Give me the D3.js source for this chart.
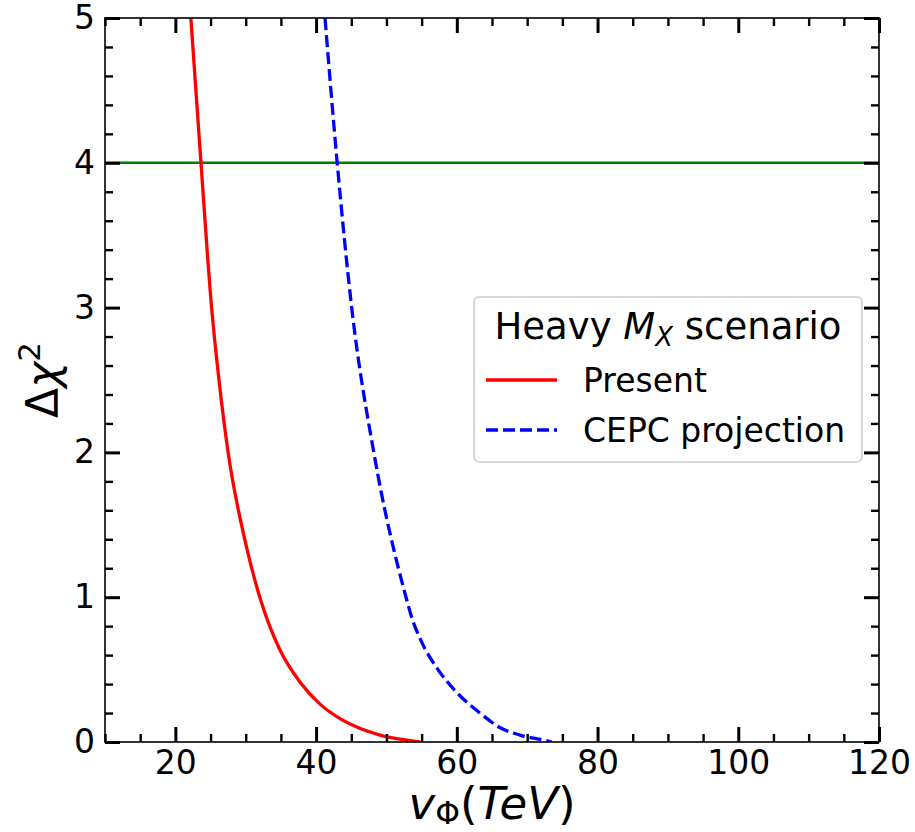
<!DOCTYPE html>
<html>
<head>
<meta charset="utf-8">
<script src="https://cdn.jsdelivr.net/npm/d3@7"></script>
<style>
  body { margin: 0; background: #fff; }
  text { font-family: "DejaVu Sans", sans-serif; fill: #000; }
</style>
</head>
<body>
<svg id="chart" width="915" height="832"></svg>
<script>
// Δχ² versus the vacuum expectation value v_Φ (TeV)
const presentV    = [22.2, 23.64, 25.15, 26.2, 27.5, 29.9, 32.0, 34.87, 37.7, 40.6, 43.4, 46.2, 49.1, 51.9, 54.8];
const presentChi2 = [5.0, 4.0, 3.0, 2.5, 2.0, 1.39, 1.0, 0.635, 0.415, 0.26, 0.162, 0.095, 0.048, 0.02, 0.0];

const cepcV    = [41.27, 43.0, 45.06, 48.2, 52.78, 53.56, 54.91, 57.33, 60.03, 63.3, 66.1, 68.98, 72.68, 73.5];
const cepcChi2 = [5.0, 4.0, 3.0, 2.0, 1.0, 0.865, 0.70, 0.50, 0.34, 0.20, 0.10, 0.048, 0.01, 0.0];

const thresholdChi2 = 4;

const xDomain = [10, 120];
const yDomain = [0, 5];
const xMajorTicks = [20, 40, 60, 80, 100, 120];
const yMajorTicks = [0, 1, 2, 3, 4, 5];
const xMinorStep = 5;
const yMinorStep = 0.2;

const seriesNames = ["Present", "CEPC projection"];

const svg = d3.select("#chart");
const plotLeft = 105, plotRight = 879, plotTop = 18, plotBottom = 742;

const x = d3.scaleLinear().domain(xDomain).range([plotLeft, plotRight]);
const y = d3.scaleLinear().domain(yDomain).range([plotBottom, plotTop]);

const near = (a, b) => Math.abs(a - b) < 1e-6;
const xMinor = d3.range(xDomain[0], xDomain[1] + 1e-6, xMinorStep)
  .filter(v => !xMajorTicks.some(t => near(t, v)));
const yMinor = d3.range(0, Math.round((yDomain[1] - yDomain[0]) / yMinorStep) + 1)
  .map(i => yDomain[0] + i * yMinorStep)
  .filter(v => !yMajorTicks.some(t => near(t, v)));

svg.append("defs").append("clipPath").attr("id", "plotClip")
  .append("rect").attr("x", plotLeft).attr("y", plotTop)
  .attr("width", plotRight - plotLeft).attr("height", plotBottom - plotTop);

// curves
const plot = svg.append("g").attr("clip-path", "url(#plotClip)");
const line = d3.line().x(d => x(d[0])).y(d => y(d[1])).curve(d3.curveMonotoneX);

plot.append("line")
  .attr("x1", x(xDomain[0])).attr("x2", x(xDomain[1]))
  .attr("y1", y(thresholdChi2)).attr("y2", y(thresholdChi2))
  .attr("stroke", "#008000").attr("stroke-width", 2.6);

plot.append("path")
  .datum(d3.zip(presentV, presentChi2))
  .attr("d", line).attr("fill", "none")
  .attr("stroke", "#ff0000").attr("stroke-width", 3.3);

plot.append("path")
  .datum(d3.zip(cepcV, cepcChi2))
  .attr("d", line).attr("fill", "none")
  .attr("stroke", "#0000ff").attr("stroke-width", 3.3)
  .attr("stroke-dasharray", "12,5");

// axes with inward ticks on all four sides
const tickFont = 33;
function styleAxis(g, major) {
  g.select(".domain").remove();
  g.selectAll(".tick line").attr("stroke", "#000").attr("stroke-width", major ? 3 : 2.4);
  g.selectAll(".tick text").style("font-size", tickFont + "px").style("font-family", '"DejaVu Sans", sans-serif');
}

svg.append("g").attr("transform", `translate(0,${plotBottom})`)
  .call(d3.axisBottom(x).tickValues(xMajorTicks).tickSize(-15).tickPadding(9).tickFormat(d3.format("d")))
  .call(g => styleAxis(g, true));
svg.append("g").attr("transform", `translate(0,${plotBottom})`)
  .call(d3.axisBottom(x).tickValues(xMinor).tickSize(-8).tickFormat(""))
  .call(g => styleAxis(g, false));
svg.append("g").attr("transform", `translate(0,${plotTop})`)
  .call(d3.axisTop(x).tickValues(xMajorTicks).tickSize(-15).tickFormat(""))
  .call(g => styleAxis(g, true));
svg.append("g").attr("transform", `translate(0,${plotTop})`)
  .call(d3.axisTop(x).tickValues(xMinor).tickSize(-8).tickFormat(""))
  .call(g => styleAxis(g, false));

svg.append("g").attr("transform", `translate(${plotLeft},0)`)
  .call(d3.axisLeft(y).tickValues(yMajorTicks).tickSize(-15).tickPadding(10).tickFormat(d3.format("d")))
  .call(g => styleAxis(g, true));
svg.append("g").attr("transform", `translate(${plotLeft},0)`)
  .call(d3.axisLeft(y).tickValues(yMinor).tickSize(-8).tickFormat(""))
  .call(g => styleAxis(g, false));
svg.append("g").attr("transform", `translate(${plotRight},0)`)
  .call(d3.axisRight(y).tickValues(yMajorTicks).tickSize(-15).tickFormat(""))
  .call(g => styleAxis(g, true));
svg.append("g").attr("transform", `translate(${plotRight},0)`)
  .call(d3.axisRight(y).tickValues(yMinor).tickSize(-8).tickFormat(""))
  .call(g => styleAxis(g, false));

// frame
svg.append("rect")
  .attr("x", plotLeft).attr("y", plotTop)
  .attr("width", plotRight - plotLeft).attr("height", plotBottom - plotTop)
  .attr("fill", "none").attr("stroke", "#000").attr("stroke-width", 1.6);

// axis labels
const labelFont = 45;
const xl = svg.append("text")
  .attr("x", (plotLeft + plotRight) / 2).attr("y", 819)
  .attr("text-anchor", "middle").style("font-size", labelFont + "px");
xl.append("tspan").style("font-style", "italic").text("v");
xl.append("tspan").attr("dy", 5).style("font-size", (labelFont * 0.7) + "px").text("Φ");
xl.append("tspan").attr("dy", -5).text("(");
xl.append("tspan").style("font-style", "italic").text("TeV");
xl.append("tspan").text(")");

const yl = svg.append("text")
  .attr("transform", `translate(58,${(plotTop + plotBottom) / 2}) rotate(-90)`)
  .attr("text-anchor", "middle").style("font-size", "44px");
yl.append("tspan").text("Δ");
yl.append("tspan").style("font-style", "italic").text("χ");
yl.append("tspan").attr("dy", -18).style("font-size", (44 * 0.7) + "px").text("2");

// legend
const legendFont = 33;
const titleFont = 37;
const lg = svg.append("g");
lg.append("rect")
  .attr("x", 474).attr("y", 297).attr("width", 388).attr("height", 165)
  .attr("rx", 5).attr("fill", "#fff").attr("fill-opacity", 0.8)
  .attr("stroke", "#cccccc").attr("stroke-width", 1.5);

const title = lg.append("text").attr("x", 668).attr("y", 339)
  .attr("text-anchor", "middle").style("font-size", titleFont + "px");
title.append("tspan").text("Heavy ");
title.append("tspan").style("font-style", "italic").text("M");
title.append("tspan").attr("dy", 7).style("font-style", "italic").style("font-size", (titleFont * 0.7) + "px").text("X");
title.append("tspan").attr("dy", -7).text(" scenario");

const entries = [
  { name: seriesNames[0], color: "#ff0000", dash: null, y: 380 },
  { name: seriesNames[1], color: "#0000ff", dash: "12,5", y: 430 }
];
entries.forEach(e => {
  lg.append("line").attr("x1", 486).attr("x2", 557).attr("y1", e.y).attr("y2", e.y)
    .attr("stroke", e.color).attr("stroke-width", 3.3).attr("stroke-dasharray", e.dash);
  lg.append("text").attr("x", 583).attr("y", e.y + 12)
    .style("font-size", legendFont + "px").text(e.name);
});
</script>
</body>
</html>
